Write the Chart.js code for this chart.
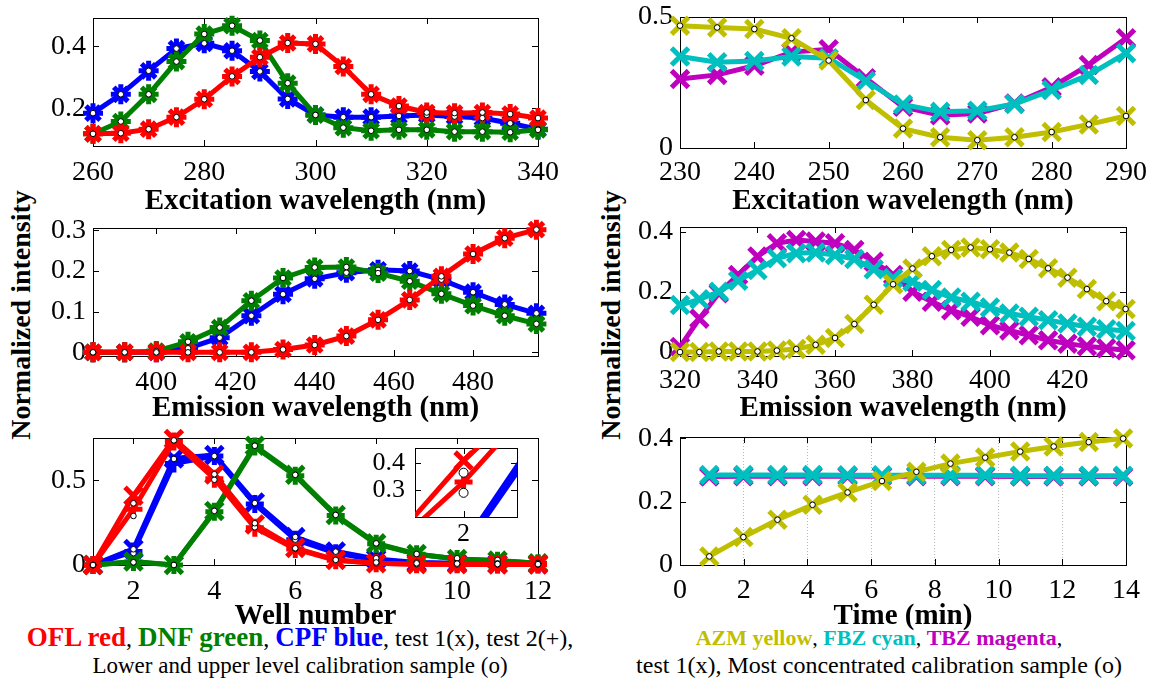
<!DOCTYPE html>
<html><head><meta charset="utf-8">
<script src="https://cdn.jsdelivr.net/npm/chart.js@4/dist/chart.umd.min.js"></script>
<style>
body{margin:0;background:#fff;width:1151px;height:685px;position:relative;overflow:hidden;font-family:"Liberation Serif",serif;}
.ylab{position:absolute;width:320px;height:34px;line-height:34px;text-align:center;font:bold 28px "Liberation Serif";transform:rotate(-90deg);white-space:nowrap;color:#000;}
.cap{position:absolute;width:640px;height:27px;line-height:27px;font-family:"Liberation Serif";text-align:center;white-space:nowrap;color:#000;}
</style></head><body>
<div class="ylab" style="left:-138px;top:298px">Normalized intensity</div>
<div class="ylab" style="left:452px;top:298px">Normalized intensity</div>
<div class="cap" style="left:-20px;top:624px;font-size:24px"><b style="color:#ff0000;font-size:27px">OFL red</b>, <b style="color:#008000;font-size:27px">DNF green</b>, <b style="color:#0000ff;font-size:27px">CPF blue</b>, test 1(x), test 2(+),</div>
<div class="cap" style="left:-20px;top:652px;font-size:23px">Lower and upper level calibration sample (o)</div>
<div class="cap" style="left:559px;top:624px;font-size:22px"><b style="color:#bfbf00">AZM yellow</b>, <b style="color:#00bfbf">FBZ cyan</b>, <b style="color:#bf00bf">TBZ magenta</b>,</div>
<div class="cap" style="left:559px;top:652px;font-size:24px">test 1(x), Most concentrated calibration sample (o)</div>
<script>
// ---------- Data ----------
// Panel A: excitation spectra (OFL / DNF / CPF)
const exWlA = [260,265,270,275,280,285,290,295,300,305,310,315,320,325,330,335,340];
const exOFL = [0.117,0.119,0.132,0.171,0.229,0.303,0.365,0.411,0.408,0.335,0.245,0.207,0.186,0.184,0.186,0.181,0.168];
const exDNF = [0.117,0.157,0.245,0.351,0.440,0.467,0.419,0.281,0.178,0.137,0.127,0.130,0.130,0.124,0.124,0.122,0.130];
const exCPF = [0.184,0.245,0.321,0.393,0.410,0.386,0.319,0.230,0.178,0.171,0.171,0.175,0.178,0.173,0.168,0.151,0.132];
const exA_xTicks = [260,280,300,320,340];
const exA_yTicks = [0.2,0.4];

// Panel B: emission spectra (OFL / DNF / CPF)
const emWlA = [384,392,400,408,416,424,432,440,448,456,464,472,480,488,496];
const emOFL = [0,0,0,0,0,0,0.007,0.018,0.040,0.080,0.129,0.187,0.242,0.281,0.302];
const emDNF = [0,0,0.003,0.026,0.061,0.127,0.183,0.209,0.210,0.195,0.175,0.144,0.115,0.090,0.070];
const emCPF = [0,0,0,0.010,0.036,0.090,0.143,0.181,0.196,0.203,0.200,0.179,0.148,0.118,0.096];
const emA_xTicks = [400,420,440,460,480];
const emA_yTicks = [0,0.1,0.2,0.3];

// Panel C: well profiles
const wells = [1,2,3,4,5,6,7,8,9,10,11,12];
const wOFL1 = [0,0.410,0.745,0.535,0.240,0.100,0.030,0.010,0.005,0.004,0.003,0.003];
const wOFL2 = [0,0.330,0.730,0.510,0.220,0.095,0.028,0.010,0.005,0.004,0.003,0.003];
const wCPF1 = [0,0.095,0.630,0.650,0.370,0.165,0.080,0.035,0.015,0.010,0.006,0.005];
const wCPF2 = [0,0.080,0.600,0.645,0.360,0.150,0.070,0.030,0.012,0.008,0.005,0.004];
const wDNF1 = [0,0.020,0,0.320,0.705,0.533,0.296,0.128,0.065,0.036,0.026,0.010];
const wDNF2 = [0,0.018,0,0.315,0.700,0.528,0.292,0.125,0.063,0.035,0.025,0.010];
const wOFLlow = [0,0.290,0.737,0.504,0.223,0.095,0.030,0.010,0.005,0.004,0.003,0.003];
const wOFLup  = [0,0.365,0.737,0.537,0.247,0.099,0.030,0.015,0.010,0.008,0.006,0.005];
const wCPFlow = [0,0.070,0.627,0.644,0.366,0.150,0.079,0.020,0.010,0.008,0.006,0.005];
const wCPFup  = [0,0.093,0.627,0.644,0.366,0.166,0.079,0.040,0.015,0.010,0.010,0.008];
const wDNFlow = [0,0.016,0,0.320,0.705,0.533,0.296,0.128,0.065,0.030,0.022,0.010];
const wDNFup  = [0,0.016,0,0.320,0.705,0.533,0.296,0.128,0.065,0.040,0.030,0.012];
const well_xTicks = [2,4,6,8,10,12];
const well_yTicks = [0,0.5];
const inset_xTicks = [2];
const inset_yTicks = [0.3,0.4];

// Panel D: excitation spectra (AZM / FBZ / TBZ)
const exWlB = [230,235,240,245,250,255,260,265,270,275,280,285,290];
const exAZM = [0.467,0.460,0.454,0.419,0.334,0.183,0.074,0.041,0.030,0.041,0.061,0.090,0.122];
const exFBZ = [0.349,0.327,0.332,0.349,0.343,0.256,0.166,0.138,0.142,0.168,0.221,0.279,0.362];
const exTBZ = [0.263,0.279,0.314,0.366,0.377,0.266,0.157,0.125,0.132,0.170,0.232,0.317,0.419];
const exB_xTicks = [230,240,250,260,270,280,290];
const exB_yTicks = [0,0.5];

// Panel E: emission spectra (AZM / FBZ / TBZ)
const emWlB = [320,325,330,335,340,345,350,355,360,365,370,375,380,385,390,395,400,405,410,415,420,425,430,435];
const emAZM = [0,0,0.002,0.002,0.002,0.005,0.010,0.024,0.047,0.093,0.157,0.225,0.277,0.318,0.339,0.347,0.341,0.330,0.309,0.278,0.247,0.209,0.169,0.143];
const emFBZ = [0.156,0.175,0.200,0.237,0.272,0.311,0.328,0.330,0.322,0.309,0.275,0.245,0.233,0.206,0.181,0.167,0.148,0.128,0.117,0.106,0.095,0.084,0.076,0.070];
const emTBZ = [0.017,0.111,0.195,0.256,0.317,0.361,0.372,0.367,0.361,0.339,0.300,0.256,0.200,0.167,0.139,0.117,0.089,0.072,0.056,0.039,0.028,0.019,0.013,0.006];
const emB_xTicks = [320,340,360,380,400,420];
const emB_yTicks = [0,0.2,0.4];

// Panel F: time course
const timeMin = [0.92,1.99,3.06,4.16,5.26,6.34,7.42,8.49,9.58,10.68,11.73,12.83,13.91];
const tAZM = [0.027,0.088,0.143,0.190,0.229,0.265,0.294,0.320,0.339,0.358,0.374,0.388,0.399];
const tFBZ = [0.284,0.284,0.284,0.284,0.283,0.283,0.283,0.283,0.283,0.282,0.282,0.282,0.282];
const tTBZ = [0.279,0.280,0.280,0.280,0.280,0.280,0.280,0.280,0.280,0.279,0.279,0.279,0.279];
const time_xTicks = [0,2,4,6,8,10,12,14];
const time_yTicks = [0,0.2,0.4];

// ---------- Styles ----------
const C = {red:'#ff0000', green:'#008000', blue:'#0000ff', yel:'#bfbf00', cyan:'#00bfbf', mag:'#bf00bf'};
Chart.defaults.font.family = '"Liberation Serif", serif';
Chart.defaults.color = '#000';

function pts(xs, ys){ return xs.map((x,i)=>({x:x, y:ys[i]})); }
function line(xs, ys, col, style, r){
  return {data:pts(xs,ys), borderColor:col, backgroundColor:col, borderWidth:5,
    pointStyle:style, pointRadius:r, pointBorderWidth:5, pointBorderColor:col, pointBackgroundColor:col,
    pointHoverRadius:r, fill:false, tension:0};
}
function circ(xs, ys, r){
  return {data:pts(xs,ys), showLine:false, pointStyle:'circle', pointRadius:r||2.8, pointHoverRadius:r||2.8,
    pointBackgroundColor:'#fff', pointBorderColor:'#000', pointBorderWidth:1, borderColor:'#000'};
}
function fmt(v){ return String(+(+v).toFixed(3)); }

const boxPlugin = {
  id:'box',
  beforeDatasetsDraw(chart){
    const {ctx, chartArea:a, scales} = chart; const x=scales.x, y=scales.y;
    ctx.save();
    if (chart.options.plugins.box && chart.options.plugins.box.white){
      ctx.fillStyle='#fff'; ctx.fillRect(a.left,a.top,a.right-a.left,a.bottom-a.top);
    }
    ctx.strokeStyle='#000'; ctx.lineWidth=1;
    const L = 6;
    ctx.beginPath();
    x.ticks.forEach(t=>{const p=Math.round(x.getPixelForValue(t.value))+0.5;
      ctx.moveTo(p,a.bottom); ctx.lineTo(p,a.bottom-L); ctx.moveTo(p,a.top); ctx.lineTo(p,a.top+L);});
    y.ticks.forEach(t=>{const p=Math.round(y.getPixelForValue(t.value))+0.5;
      ctx.moveTo(a.left,p); ctx.lineTo(a.left+L,p); ctx.moveTo(a.right,p); ctx.lineTo(a.right-L,p);});
    ctx.stroke();
    ctx.strokeRect(Math.round(a.left)+0.5, Math.round(a.top)+0.5, Math.round(a.right-a.left), Math.round(a.bottom-a.top));
    ctx.restore();
  }
};

function mk(box, area, cfg){
  const c = document.createElement('canvas');
  c.width = box.w; c.height = box.h;
  c.style.cssText = 'position:absolute;left:'+box.l+'px;top:'+box.t+'px;width:'+box.w+'px;height:'+box.h+'px';
  document.body.appendChild(c);
  const yW = area.x0 - box.l, xH = box.t + box.h - area.y1;
  const zeroPad = s=>{s.paddingTop=0;s.paddingBottom=0;s.paddingLeft=0;s.paddingRight=0;};
  const tickFont = {family:'"Liberation Serif", serif', size:cfg.tickSize||28};
  new Chart(c, {
    type:'line',
    data:{datasets:cfg.datasets.map(d=>Object.assign({clip:cfg.clip===undefined?false:cfg.clip}, d))},
    options:{
      responsive:false, animation:false, devicePixelRatio:1,
      layout:{autoPadding:false, padding:{left:0, top:area.y0-box.t, right:box.l+box.w-area.x1, bottom:0}},
      plugins:{legend:{display:false}, tooltip:{enabled:false}, box:{white:!!cfg.white}},
      events:[],
      scales:{
        x:{type:'linear', min:cfg.xmin, max:cfg.xmax,
          afterBuildTicks:s=>{s.ticks=cfg.xt.map(v=>({value:v}));},
          afterFit:s=>{s.height=xH; zeroPad(s);},
          grid:cfg.xgrid?{display:true, drawTicks:false, color:'#b8b8b8', lineWidth:1}:{display:false, drawTicks:false},
          border:{display:false, dash:cfg.xgrid?[1,2]:undefined},
          ticks:{font:tickFont, color:'#000', padding:cfg.xpad===undefined?10:cfg.xpad, autoSkip:false, maxRotation:0, callback:v=>fmt(v)},
          title:{display:!!cfg.xtitle, text:cfg.xtitle||'', color:'#000', padding:0,
            font:{family:'"Liberation Serif", serif', size:29, weight:'bold', lineHeight:1.2}}
        },
        y:{type:'linear', min:cfg.ymin, max:cfg.ymax,
          afterBuildTicks:s=>{s.ticks=cfg.yt.map(v=>({value:v}));},
          afterFit:s=>{s.width=yW; zeroPad(s);},
          grid:{display:false, drawTicks:false},
          border:{display:false},
          ticks:{font:tickFont, color:'#000', padding:cfg.ypad||7, autoSkip:false, callback:v=>fmt(v)}
        }
      }
    },
    plugins:[boxPlugin]
  });
}

// ---------- Panels ----------
mk({l:0,t:0,w:560,h:219},{x0:93,y0:18,x1:538,y1:146},{
  xmin:260,xmax:340,ymin:0.0776,ymax:0.492,xt:exA_xTicks,yt:exA_yTicks,xtitle:'Excitation wavelength (nm)',
  datasets:[circ(exWlA,exOFL),circ(exWlA,exDNF),circ(exWlA,exCPF),
    line(exWlA,exOFL,C.red,'star',10),line(exWlA,exDNF,C.green,'star',10),line(exWlA,exCPF,C.blue,'star',10)]
});
mk({l:0,t:212,w:560,h:214},{x0:93,y0:228,x1:538,y1:356},{
  xmin:384,xmax:496.4,ymin:-0.009,ymax:0.306,xt:emA_xTicks,yt:emA_yTicks,xtitle:'Emission wavelength (nm)',
  datasets:[circ(emWlA,emOFL),circ(emWlA,emDNF),circ(emWlA,emCPF),
    line(emWlA,emOFL,C.red,'star',10),line(emWlA,emDNF,C.green,'star',10),line(emWlA,emCPF,C.blue,'star',10)]
});
const wellSets = (r)=>[
  circ(wells,wOFLup,r),circ(wells,wOFLlow,r),circ(wells,wCPFup,r),circ(wells,wCPFlow,r),circ(wells,wDNFup,r),circ(wells,wDNFlow,r),
  line(wells,wOFL1,C.red,'crossRot',12),line(wells,wOFL2,C.red,'cross',9),
  line(wells,wDNF1,C.green,'crossRot',12),line(wells,wDNF2,C.green,'cross',9),
  line(wells,wCPF1,C.blue,'crossRot',12),line(wells,wCPF2,C.blue,'cross',9)];
mk({l:0,t:400,w:560,h:234},{x0:93,y0:438,x1:538,y1:565},{
  xmin:1,xmax:12,ymin:0,ymax:0.751,xt:well_xTicks,yt:well_yTicks,xtitle:'Well number',
  datasets:wellSets(2.8)
});
// inset
mk({l:355,t:440,w:170,h:110},{x0:415,y0:448,x1:517,y1:517},{
  xmin:1.5,xmax:2.55,ymin:0.2,ymax:0.457,xt:inset_xTicks,yt:inset_yTicks,white:true,clip:0,xpad:2,ypad:10,tickSize:26,
  datasets:wellSets(4.5)
});
mk({l:600,t:0,w:551,h:219},{x0:680,y0:17,x1:1126,y1:148},{
  xmin:230,xmax:290,ymin:0,ymax:0.5,xt:exB_xTicks,yt:exB_yTicks,xtitle:'Excitation wavelength (nm)',xpad:8,
  datasets:[circ(exWlB,exAZM),line(exWlB,exAZM,C.yel,'crossRot',12),line(exWlB,exFBZ,C.cyan,'crossRot',12),line(exWlB,exTBZ,C.mag,'crossRot',12)]
});
mk({l:600,t:212,w:551,h:214},{x0:680,y0:227,x1:1126,y1:356},{
  xmin:320,xmax:435.1,ymin:-0.013,ymax:0.415,xt:emB_xTicks,yt:emB_yTicks,xtitle:'Emission wavelength (nm)',xpad:8,
  datasets:[circ(emWlB,emAZM),line(emWlB,emAZM,C.yel,'crossRot',12),line(emWlB,emFBZ,C.cyan,'crossRot',12),line(emWlB,emTBZ,C.mag,'crossRot',12)]
});
mk({l:600,t:400,w:551,h:234},{x0:680,y0:437,x1:1126,y1:565},{
  xmin:0,xmax:14,ymin:0,ymax:0.404,xt:time_xTicks,yt:time_yTicks,xtitle:'Time (min)',xgrid:true,xpad:9,
  datasets:[circ(timeMin,tAZM),line(timeMin,tAZM,C.yel,'crossRot',12),line(timeMin,tFBZ,C.cyan,'crossRot',12),line(timeMin,tTBZ,C.mag,'crossRot',12)]
});
</script>
</body></html>
